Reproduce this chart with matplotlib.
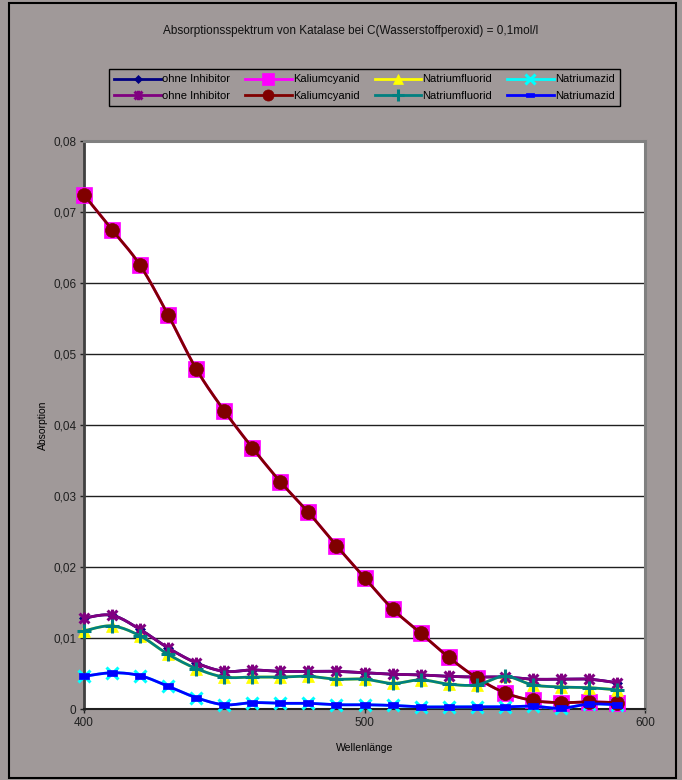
import numpy as np
import matplotlib.pyplot as plt
from matplotlib.path import Path
from matplotlib.lines import Line2D
from matplotlib.patches import Rectangle
from matplotlib.ticker import FuncFormatter, MultipleLocator

# Wellenlaengen in nm
wellenlaenge = np.arange(400, 600, 10)

ohne_inhibitor = [0.0128, 0.0132, 0.0112, 0.0086, 0.0065, 0.0053, 0.0055, 0.0053, 0.0053, 0.0053,
                  0.0051, 0.0049, 0.0048, 0.0046, 0.0045, 0.0045, 0.0042, 0.0042, 0.0042, 0.0037]
kaliumcyanid = [0.0724, 0.0675, 0.0625, 0.0555, 0.0479, 0.0420, 0.0368, 0.0320, 0.0277, 0.0230,
                0.0185, 0.0141, 0.0107, 0.0073, 0.0044, 0.0023, 0.0012, 0.0009, 0.0010, 0.0009]
natriumfluorid = [0.0110, 0.0117, 0.0103, 0.0077, 0.0057, 0.0045, 0.0045, 0.0045, 0.0046, 0.0042,
                  0.0042, 0.0036, 0.0041, 0.0035, 0.0034, 0.0046, 0.0034, 0.0031, 0.0030, 0.0027]
natriumazid = [0.0046, 0.0051, 0.0047, 0.0032, 0.0016, 0.0006, 0.0009, 0.0008, 0.0008, 0.0006,
               0.0006, 0.0005, 0.0003, 0.0003, 0.0003, 0.0003, 0.0004, 0.0001, 0.0007, 0.0006]

titel = 'Absorptionsspektrum von Katalase bei C(Wasserstoffperoxid) = 0,1mol/l'
bg = '#a09999'

# Excel-artige Marker
stern = Path([(-1, -1), (1, 1), (-1, 1), (1, -1), (0, -1.2), (0, 1.2)],
             [Path.MOVETO, Path.LINETO, Path.MOVETO, Path.LINETO, Path.MOVETO, Path.LINETO])
strich = Path([(-1, -0.55), (1, -0.55), (1, 0.55), (-1, 0.55), (-1, -0.55)],
              [Path.MOVETO, Path.LINETO, Path.LINETO, Path.LINETO, Path.CLOSEPOLY])


def glatt(x, y, n=12):
    # Catmull-Rom Kurve durch die Messpunkte (wie "Linie glaetten")
    x = np.asarray(x, float)
    y = np.asarray(y, float)
    px = np.concatenate([[x[0]], x, [x[-1]]])
    py = np.concatenate([[y[0]], y, [y[-1]]])
    t = np.linspace(0, 1, n, endpoint=False)
    xs, ys = [], []
    for i in range(1, len(x)):
        for p, out in ((px, xs), (py, ys)):
            p0, p1, p2, p3 = p[i-1], p[i], p[i+1], p[i+2]
            c1 = p1 + (p2 - p0) / 6
            c2 = p2 - (p3 - p1) / 6
            out.extend((1-t)**3*p1 + 3*(1-t)**2*t*c1 + 3*(1-t)*t**2*c2 + t**3*p2)
    xs.append(x[-1])
    ys.append(y[-1])
    return xs, ys


def main():
    plt.rc('font', family='Liberation Sans')

    fig = plt.figure(figsize=(6.82, 7.8), dpi=100, facecolor=bg)
    ax = fig.add_axes([84/682, 1-709/780, 561/682, 568/780])
    ax.set_facecolor('white')

    # (Daten, Label, Farbe, Marker, Markergroesse, gefuellt)
    serien = [
        (ohne_inhibitor, 'ohne Inhibitor', '#000080', 'D', 5.5, True),
        (kaliumcyanid, 'Kaliumcyanid', '#ff00ff', 's', 11, True),
        (natriumfluorid, 'Natriumfluorid', '#ffff00', '^', 9, True),
        (natriumazid, 'Natriumazid', '#00ffff', 'x', 9, False),
        (ohne_inhibitor, 'ohne Inhibitor', '#800080', stern, 8.5, False),
        (kaliumcyanid, 'Kaliumcyanid', '#800000', 'o', 10, True),
        (natriumfluorid, 'Natriumfluorid', '#008080', '+', 10, False),
        (natriumazid, 'Natriumazid', '#0000ff', strich, 7, True),
    ]

    handles = []
    for k, (werte, label, farbe, marker, ms, voll) in enumerate(serien):
        xs, ys = glatt(wellenlaenge, werte)
        ax.plot(xs, ys, color=farbe, lw=2.0, zorder=3+k, clip_on=False)
        kw = dict(marker=marker, markersize=ms, linestyle='none', clip_on=False)
        if voll:
            kw.update(markerfacecolor=farbe, markeredgecolor=farbe, markeredgewidth=0.5)
        else:
            kw.update(markeredgecolor=farbe, markeredgewidth=2.2)
        ax.plot(wellenlaenge, werte, zorder=3+k, **kw)
        handles.append(Line2D([], [], color=farbe, lw=2.0, label=label,
                              **{a: b for a, b in kw.items() if a not in ('linestyle', 'clip_on', 'markersize')},
                              markersize=ms*0.8))

    ax.set_xlim(400, 600)
    ax.set_ylim(0, 0.08)
    ax.xaxis.set_major_locator(MultipleLocator(100))
    ax.yaxis.set_major_locator(MultipleLocator(0.01))
    ax.yaxis.set_major_formatter(FuncFormatter(
        lambda v, p: '0' if abs(v) < 1e-9 else ('%.2f' % v).replace('.', ',')))
    ax.tick_params(direction='out', length=3, width=1, labelsize=8.5, colors='#202020', pad=2.5)
    ax.grid(axis='y', color='#202020', lw=1.0, zorder=1)
    ax.set_axisbelow(True)

    for s in ('top', 'right'):
        ax.spines[s].set_color('#808080')
        ax.spines[s].set_linewidth(2.2)
    ax.spines['left'].set_color('#404040')
    ax.spines['left'].set_linewidth(2.0)
    ax.spines['bottom'].set_color('#202020')
    ax.spines['bottom'].set_linewidth(1.5)

    ax.set_xlabel('Wellenlänge', fontsize=7.5, labelpad=10)
    ax.set_ylabel('Absorption', fontsize=7.5, labelpad=4)

    fig.text(0.514, 1-31/780, titel, ha='center', va='center', fontsize=8.5, color='#101010')

    # Legende in zwei Zeilen, Spaltenweise sortiert
    order = [0, 4, 1, 5, 2, 6, 3, 7]
    leg = fig.legend([handles[i] for i in order], [handles[i].get_label() for i in order],
                     loc='center', bbox_to_anchor=(364.5/682, 1-87.5/780), ncol=4,
                     fontsize=8, handlelength=4.2, handletextpad=0.1, columnspacing=1.35,
                     labelspacing=0.55, frameon=True, fancybox=False, edgecolor='black',
                     facecolor=bg, framealpha=1, borderpad=0.5)
    leg.get_frame().set_linewidth(1.0)

    # Rahmen um das ganze Diagramm
    fig.patches.append(Rectangle((9/682, 2/780), 667/682, 775/780, transform=fig.transFigure,
                                 fill=False, edgecolor='black', lw=1.5))

    fig.savefig('out.png', dpi=100, facecolor=bg)
    plt.close()


if __name__ == "__main__":
    main()
